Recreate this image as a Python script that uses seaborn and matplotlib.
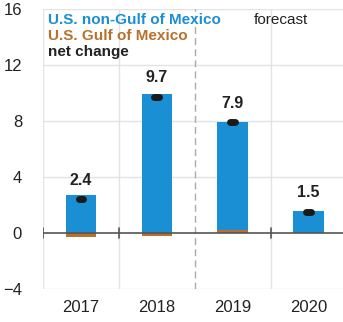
import numpy as np
import pandas as pd
import matplotlib
matplotlib.use("Agg")
import matplotlib.pyplot as plt
import seaborn as sns

years = ["2017", "2018", "2019", "2020"]
non_gulf = [2.7, 9.9, 7.7, 1.55]
gulf = [-0.3, -0.2, 0.2, 0.0]
net_change = [2.4, 9.7, 7.9, 1.5]

blue = "#1a8fd3"
brown = "#b8702a"

sns.set_style("white")
plt.rcParams["font.family"] = ["Liberation Sans", "DejaVu Sans"]

df = pd.DataFrame({"year": years, "non_gulf": non_gulf, "gulf": gulf, "net": net_change})
# positive part stacked: gulf (if positive) sits under non-gulf
df["pos_top"] = df["non_gulf"] + df["gulf"].clip(lower=0)

fig = plt.figure(figsize=(3.43, 3.22), dpi=100)
ax = fig.add_axes([0.125, 0.1025, 0.885, 0.8695])

sns.barplot(data=df, x="year", y="pos_top", color=blue, width=0.4, saturation=1,
            linewidth=0, ax=ax)
sns.barplot(data=df, x="year", y="gulf", color=brown, width=0.4, saturation=1,
            linewidth=0, ax=ax)

# net change markers
xs = np.arange(len(years))
ax.hlines(df["net"], xs - 0.03, xs + 0.03, colors="#1a1a1a", linewidth=5,
          capstyle="round", zorder=5)
for x, v in zip(xs, net_change):
    ax.text(x, v + 0.85, f"{v:.1f}", ha="center", va="bottom", fontsize=11.5,
            fontweight="bold", color="#222222")

ax.set_xlim(-0.5, 3.5)
ax.set_ylim(-4, 16)
ax.set_yticks([-4, 0, 4, 8, 12, 16])
ax.set_xlabel("")
ax.set_ylabel("")
ax.tick_params(axis="both", labelsize=12, colors="#222222", length=0)
ax.tick_params(axis="y", pad=15)
ax.tick_params(axis="x", pad=8)

# grid
for y in [-4, 4, 8, 12, 16]:
    ax.axhline(y, color="#e3e3e3", linewidth=1, zorder=0)
for x in [0.5, 2.5]:
    ax.axvline(x, color="#e3e3e3", linewidth=1, zorder=0)
ax.axvline(-0.5, color="#e3e3e3", linewidth=1, zorder=0)
ax.axvline(1.5, color="#aaaaaa", linewidth=1, linestyle=(0, (5, 3)), zorder=0)
ax.axhline(0, color="#555555", linewidth=1.2, zorder=4)
for x in [-0.5, 0.5, 2.5]:
    ax.plot([x, x], [-0.35, 0.35], color="#555555", linewidth=1.2, zorder=4)
ax.set_axisbelow(True)
sns.despine(ax=ax, left=True, bottom=True, right=True, top=True)

# legend as coloured text
ax.text(-0.43, 15.75, "U.S. non-Gulf of Mexico", color=blue, fontsize=11,
        fontweight="bold", va="top")
ax.text(-0.43, 14.6, "U.S. Gulf of Mexico", color=brown, fontsize=11,
        fontweight="bold", va="top")
ax.text(-0.43, 13.45, "net change", color="#222222", fontsize=11,
        fontweight="bold", va="top")
ax.text(2.28, 15.75, "forecast", color="#222222", fontsize=11, va="top")

fig.savefig("out.png", dpi=100)
